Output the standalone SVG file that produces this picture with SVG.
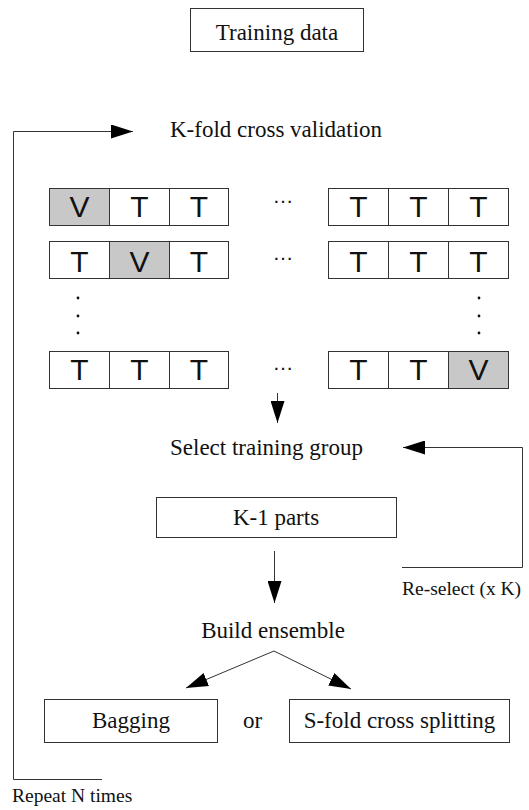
<svg xmlns="http://www.w3.org/2000/svg" width="529" height="810" viewBox="0 0 529 810">
<style>
.box{fill:#fff;stroke:#333;stroke-width:1}
.cell{fill:#fff;stroke:#333;stroke-width:1}
.v{fill:#c8c8c8}
.lbl{font-family:"Liberation Serif","Times New Roman",serif;font-size:23px;fill:#111}
.sm{font-family:"Liberation Serif","Times New Roman",serif;font-size:19.5px;fill:#111}
.ct{font-family:"Liberation Sans",Arial,sans-serif;font-size:30px;fill:#111;text-anchor:middle}
.el{font-family:"Liberation Sans",Arial,sans-serif;font-size:21px;fill:#111;text-anchor:middle}
.ln{fill:none;stroke:#333;stroke-width:1}
.dot{fill:#111}
</style>
<defs>
<marker id="ah" markerWidth="22" markerHeight="14" refX="22" refY="7" orient="auto" markerUnits="userSpaceOnUse">
<path d="M0,0 L22,7 L0,14 Z" fill="#000"/>
</marker>
</defs>
<g id="training-data">
<rect class="box" x="190.5" y="8.5" width="173" height="43"/>
<text class="lbl" x="277" y="40" text-anchor="middle">Training data</text>
</g>
<g id="kfold-label">
<text class="lbl" x="170" y="137">K-fold cross validation</text>
</g>
<g id="folds">
<g id="row1">
<rect class="cell v" x="49.5" y="188.5" width="60" height="37"/>
<rect class="cell" x="109.5" y="188.5" width="60" height="37"/>
<rect class="cell" x="169.5" y="188.5" width="59" height="37"/>
<rect class="cell" x="328.5" y="188.5" width="60" height="37"/>
<rect class="cell" x="388.5" y="188.5" width="60" height="37"/>
<rect class="cell" x="448.5" y="188.5" width="60" height="37"/>
<text class="ct" x="79.5" y="217">V</text><text class="ct" x="139.5" y="217">T</text><text class="ct" x="199" y="217">T</text>
<text class="ct" x="358.5" y="217">T</text><text class="ct" x="418.5" y="217">T</text><text class="ct" x="478.5" y="217">T</text>
<text class="el" x="283" y="203">…</text>
</g>
<g id="row2">
<rect class="cell" x="49.5" y="241.5" width="60" height="37"/>
<rect class="cell v" x="109.5" y="241.5" width="60" height="37"/>
<rect class="cell" x="169.5" y="241.5" width="59" height="37"/>
<rect class="cell" x="328.5" y="241.5" width="60" height="37"/>
<rect class="cell" x="388.5" y="241.5" width="60" height="37"/>
<rect class="cell" x="448.5" y="241.5" width="60" height="37"/>
<text class="ct" x="79.5" y="272">T</text><text class="ct" x="139.5" y="272">V</text><text class="ct" x="199" y="272">T</text>
<text class="ct" x="358.5" y="272">T</text><text class="ct" x="418.5" y="272">T</text><text class="ct" x="478.5" y="272">T</text>
<text class="el" x="283" y="260">…</text>
</g>
<g id="vdots">
<circle class="dot" cx="78" cy="298" r="1.4"/><circle class="dot" cx="78" cy="316" r="1.4"/><circle class="dot" cx="78" cy="333" r="1.4"/>
<circle class="dot" cx="479" cy="298" r="1.4"/><circle class="dot" cx="479" cy="316" r="1.4"/><circle class="dot" cx="479" cy="333" r="1.4"/>
</g>
<g id="row3">
<rect class="cell" x="49.5" y="351.5" width="60" height="37"/>
<rect class="cell" x="109.5" y="351.5" width="60" height="37"/>
<rect class="cell" x="169.5" y="351.5" width="59" height="37"/>
<rect class="cell" x="328.5" y="351.5" width="60" height="37"/>
<rect class="cell" x="388.5" y="351.5" width="60" height="37"/>
<rect class="cell v" x="448.5" y="351.5" width="60" height="37"/>
<text class="ct" x="79.5" y="380">T</text><text class="ct" x="139.5" y="380">T</text><text class="ct" x="199" y="380">T</text>
<text class="ct" x="358.5" y="380">T</text><text class="ct" x="418.5" y="380">T</text><text class="ct" x="478.5" y="380">V</text>
<text class="el" x="283" y="370">…</text>
</g>
</g>
<g id="select-label">
<text class="lbl" x="170" y="455">Select training group</text>
</g>
<g id="k1-parts">
<rect class="box" x="156.5" y="497.5" width="240" height="40"/>
<text class="lbl" x="276" y="525" text-anchor="middle">K-1 parts</text>
</g>
<g id="build-label">
<text class="lbl" x="273" y="638" text-anchor="middle">Build ensemble</text>
</g>
<g id="bagging">
<rect class="box" x="44.5" y="699.5" width="173" height="43"/>
<text class="lbl" x="131" y="728" text-anchor="middle">Bagging</text>
</g>
<g id="or-label">
<text class="lbl" x="252.5" y="728" text-anchor="middle">or</text>
</g>
<g id="sfold">
<rect class="box" x="289.5" y="699.5" width="220" height="43"/>
<text class="lbl" x="399.5" y="728" text-anchor="middle">S-fold cross splitting</text>
</g>
<g id="reselect-label">
<text class="sm" x="402" y="595">Re-select (x K)</text>
</g>
<g id="repeat-label">
<text class="sm" x="12" y="802">Repeat N times</text>
</g>
<g id="connectors">
<path class="ln" d="M102,779.5 H13.5 V131.5 H133" marker-end="url(#ah)"/>
<path class="ln" d="M277.5,393 V423" marker-end="url(#ah)"/>
<path class="ln" d="M402,567.5 H522.5 V447.5 H403" marker-end="url(#ah)"/>
<path class="ln" d="M274.5,551 V603" marker-end="url(#ah)"/>
<path class="ln" d="M274,651 L186,688" marker-end="url(#ah)"/>
<path class="ln" d="M274,651 L351,689" marker-end="url(#ah)"/>
</g>
</svg>
